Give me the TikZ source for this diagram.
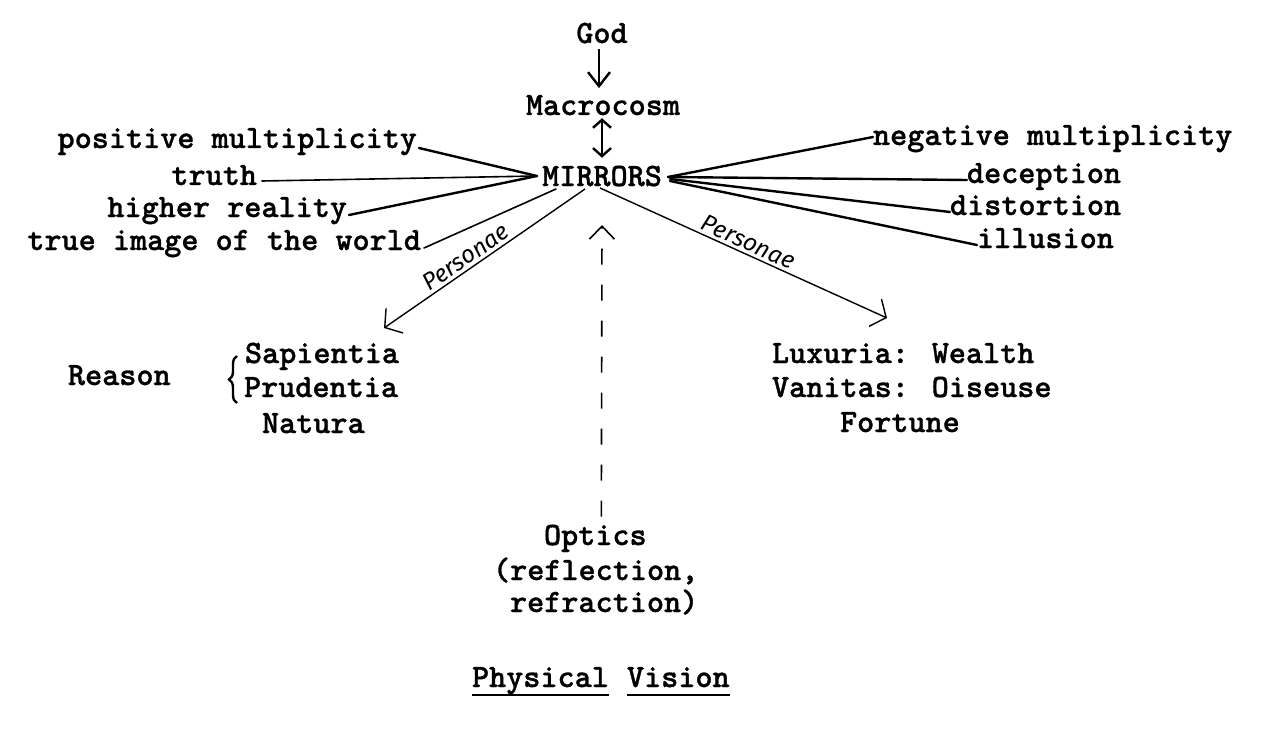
\documentclass[tikz,border=0pt]{standalone}
\usepackage{fontspec}
\newfontfamily\handfont{Fira Sans}
\newfontfamily\twfont{lmmonolt10-bold.otf}[FakeBold=1]
\usetikzlibrary{arrows.meta,decorations.pathreplacing,calc}
\begin{document}
\begin{tikzpicture}[x=1pt,y=-1pt,
  lbl/.style={font=\twfont\fontsize{32.6}{34}\selectfont, inner sep=0pt, outer sep=0pt},
  conn/.style={line width=2.4pt, line cap=round},
  thinconn/.style={line width=1.6pt, line cap=round},
  pers/.style={line width=1.4pt, -{Straight Barb[length=12pt,width=30pt]}},
  plabel/.style={font=\handfont\itshape\fontsize{24}{26}\selectfont, sloped, above, inner sep=3pt},
]
\useasboundingbox (0,0) rectangle (1280,741);

% centre column
\node[lbl, anchor=base] (god) at (602,43) {God};
\node[lbl, anchor=base] (macro) at (603,115) {Macrocosm};
\node[lbl, anchor=base] (mirrors) at (602,186) {MIRRORS};

\draw[line width=2.4pt, -{Straight Barb[length=14pt,width=22pt]}] ($(god.south)+(-3,6)$) -- ($(macro.north)+(-4,-7)$);
\draw[line width=2.4pt, {Straight Barb[length=8pt,width=18pt]}-{Straight Barb[length=8pt,width=18pt]}] ($(macro.south)+(-1,3)$) -- ($(mirrors.north)+(0,-8)$);

% left labels
\node[lbl, anchor=base east] (pm) at (417,148) {positive multiplicity};
\node[lbl, anchor=base east] (tr) at (257,185) {truth};
\node[lbl, anchor=base east] (hr) at (347,217) {higher reality};
\node[lbl, anchor=base east] (ti) at (421,250) {true image of the world};

\coordinate (cL) at (537,176);
\coordinate (cLw) at (556,189);
\draw[conn] ([xshift=2pt]pm.base east) -- (cL);
\draw[thinconn] ([xshift=5pt,yshift=4pt]tr.base east) -- (cL);
\draw[conn] ([xshift=2pt,yshift=2pt]hr.base east) -- (cL);
\draw[thinconn] ([xshift=3pt,yshift=2pt]ti.base east) -- (cLw);

% right labels
\node[lbl, anchor=base west] (nm) at (873,145) {negative multiplicity};
\node[lbl, anchor=base west] (de) at (967,183) {deception};
\node[lbl, anchor=base west] (di) at (950,215) {distortion};
\node[lbl, anchor=base west] (il) at (977,248) {illusion};

\coordinate (cR) at (668,177);
\draw[conn] ([yshift=8pt]nm.base west) -- (cR);
\draw[conn] ([yshift=3pt]de.base west) -- (cR);
\draw[conn] ([yshift=3pt]di.base west) -- ($(cR)+(2,2)$);
\draw[conn] ([yshift=3pt]il.base west) -- ($(cR)+(2,4)$);

% left group
\node[lbl, anchor=base west] (reason) at (68,385) {Reason};
\node[lbl, anchor=base west] (sap) at (245,363) {Sapientia};
\node[lbl, anchor=base west] (pru) at (244,397) {Prudentia};
\node[lbl, anchor=base west] (nat) at (262,433) {Natura};
\draw[line width=2.4pt, decorate, decoration={brace, amplitude=8pt}] (237,403) -- (237,356);

% right group
\node[lbl, anchor=base west] (lux) at (772,363) {Luxuria: Wealth};
\node[lbl, anchor=base west] (van) at (772,397) {Vanitas: Oiseuse};
\node[lbl, anchor=base west] (fort) at (840,432) {Fortune};

% personae arrows
\coordinate (pL0) at (585,189);
\coordinate (pL1) at (384,328);
\coordinate (pR0) at (600,188);
\coordinate (pR1) at (887,318);
\draw[pers] (pL0) -- node[plabel, pos=0.56] {Personae} (pL1);
\draw[pers] (pR0) -- node[plabel, pos=0.5] {Personae} (pR1);

% optics
\node[lbl, anchor=base west] (opt) at (544,545) {Optics};
\node[lbl, anchor=base west] (refl) at (493,580) {(reflection,};
\node[lbl, anchor=base west] (refr) at (510,612) {refraction)};
\coordinate (dTip) at (602,225);
\draw[line width=1.6pt, dash pattern=on 16pt off 20pt, -{Straight Barb[length=13pt,width=25pt]}] ($(opt.north)+(6,-8)$) -- (dTip);

% physical vision
\node[lbl, anchor=base west] (pv1) at (472,687) {Physical};
\node[lbl, anchor=base west] (pv2) at (627,687) {Vision};
\draw[line width=2pt] ([yshift=-8pt]pv1.base west) -- ([yshift=-8pt]pv1.base east);
\draw[line width=2pt] ([yshift=-8pt]pv2.base west) -- ([yshift=-8pt]pv2.base east);
\end{tikzpicture}
\end{document}
